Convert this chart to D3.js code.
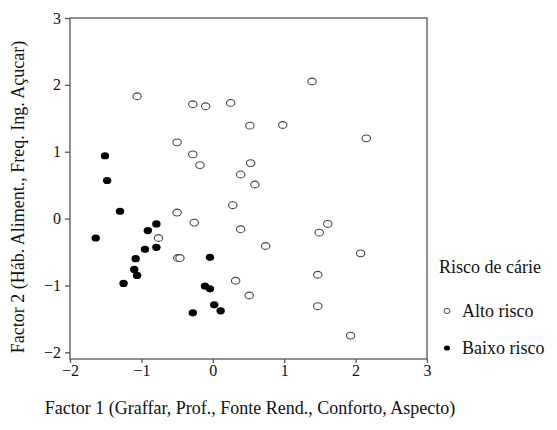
<!DOCTYPE html>
<html>
<head>
<meta charset="utf-8">
<script src="https://cdn.jsdelivr.net/npm/d3@7"></script>
<style>
    body { margin: 0; background: #fff; }
    text { font-family: "Liberation Serif", "Times New Roman", serif; fill: #111; }
</style>
</head>
<body>
<div id="chart"></div>
<script>
// Alto risco (open markers)
var altoX = [-1.06, -0.28, -0.10, 0.25, 1.39, 0.52, 0.98, 2.15, -0.50, -0.28, -0.18, 0.53, 0.39, 0.59,
             0.28, -0.50, 0.39, -0.26, -0.76, -0.49, -0.46, 1.61, 1.49, 0.74, 2.07, 0.32, 1.47, 0.51, 1.47, 1.93];
var altoY = [1.83, 1.71, 1.68, 1.73, 2.05, 1.39, 1.40, 1.20, 1.14, 0.96, 0.80, 0.83, 0.66, 0.51,
             0.20, 0.09, -0.16, -0.06, -0.29, -0.59, -0.59, -0.08, -0.21, -0.41, -0.52, -0.93, -0.84, -1.15, -1.31, -1.75];
// Baixo risco (filled markers)
var baixoX = [-1.51, -1.48, -1.30, -1.64, -0.79, -0.91, -0.95, -0.79, -1.08, -1.10, -1.06, -1.25,
              -0.04, -0.11, -0.04, 0.02, 0.11, -0.28];
var baixoY = [0.94, 0.57, 0.11, -0.29, -0.08, -0.18, -0.46, -0.43, -0.60, -0.76, -0.85, -0.97,
              -0.58, -1.01, -1.05, -1.29, -1.38, -1.41];
var tickValues = [-2, -1, 0, 1, 2, 3];
var xTitle = "Factor 1 (Graffar, Prof., Fonte Rend., Conforto, Aspecto)";
var yTitle = "Factor 2 (Háb. Aliment., Freq. Ing. Açucar)";
var legendTitle = "Risco de cárie";
var legendLabels = ["Alto risco", "Baixo risco"];

var svg_width = 557, svg_height = 430;
var margin = {top: 18, left: 70, right: 130, bottom: 71};
var width = 427 - margin.left;
var height = 359 - margin.top;

var svg = d3.select("#chart").append("svg")
    .attr("width", svg_width)
    .attr("height", svg_height);

var el = svg.append("g")
    .attr("transform", "translate(" + margin.left + "," + margin.top + ")");

var x = d3.scaleLinear().domain([-2, 3]).range([0, width]);
var y = d3.scaleLinear().domain([-2.1, 3]).range([height, 0]);

// frame
el.append("rect")
    .attr("width", width)
    .attr("height", height)
    .attr("fill", "none")
    .attr("stroke", "#555")
    .attr("stroke-width", 1.3);

var xAxis = el.append("g")
    .attr("transform", "translate(0," + height + ")")
    .call(d3.axisBottom(x).tickValues(tickValues).tickSize(4).tickPadding(2).tickFormat(d3.format("d")));
var yAxis = el.append("g")
    .call(d3.axisLeft(y).tickValues(tickValues).tickSize(5).tickPadding(4).tickFormat(d3.format("d")));

[xAxis, yAxis].forEach(function(a) {
    a.select(".domain").remove();
    a.selectAll("line").attr("stroke", "#555").attr("stroke-width", 1.3);
    a.selectAll("text").style("font-size", "16px").attr("fill", "#111");
});

var alto = altoX.map(function(v, i) { return {x: v, y: altoY[i]}; });
var baixo = baixoX.map(function(v, i) { return {x: v, y: baixoY[i]}; });

el.selectAll(".alto")
    .data(alto)
  .enter().append("ellipse")
    .attr("class", "alto")
    .attr("cx", function(d) { return x(d.x); })
    .attr("cy", function(d) { return y(d.y); })
    .attr("rx", 4.2)
    .attr("ry", 3.4)
    .attr("fill", "#fff")
    .attr("stroke", "#444")
    .attr("stroke-width", 1.1);

el.selectAll(".baixo")
    .data(baixo)
  .enter().append("ellipse")
    .attr("class", "baixo")
    .attr("cx", function(d) { return x(d.x); })
    .attr("cy", function(d) { return y(d.y); })
    .attr("rx", 4.2)
    .attr("ry", 3.6)
    .attr("fill", "#000");

// axis titles
svg.append("text")
    .attr("x", 250)
    .attr("y", 414)
    .attr("text-anchor", "middle")
    .style("font-size", "18px")
    .text(xTitle);

svg.append("text")
    .attr("transform", "translate(24,197) rotate(-90)")
    .attr("text-anchor", "middle")
    .style("font-size", "18px")
    .text(yTitle);

// legend
svg.append("text")
    .attr("x", 439)
    .attr("y", 273)
    .style("font-size", "18px")
    .text(legendTitle);

var legend = svg.selectAll(".legend")
    .data(legendLabels)
  .enter().append("g")
    .attr("class", "legend")
    .attr("transform", function(d, i) { return "translate(447," + (311 + i * 37) + ")"; });

legend.append("ellipse")
    .attr("rx", 3)
    .attr("ry", 2.6)
    .attr("fill", function(d, i) { return i === 0 ? "#fff" : "#000"; })
    .attr("stroke", function(d, i) { return i === 0 ? "#444" : "none"; })
    .attr("stroke-width", 1);

legend.append("text")
    .attr("x", 15)
    .attr("y", 6)
    .style("font-size", "18px")
    .text(function(d) { return d; });
</script>
</body>
</html>
